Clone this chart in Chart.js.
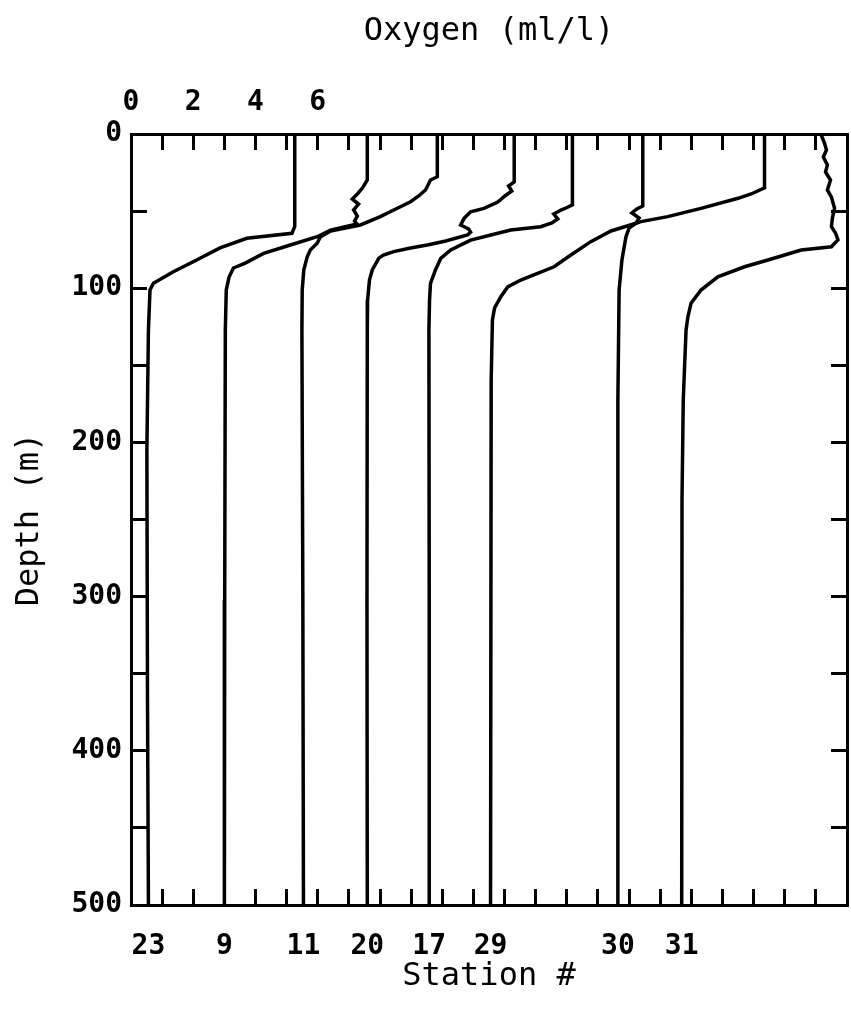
<!DOCTYPE html>
<html>
<head>
<meta charset="utf-8">
<script src="https://cdn.jsdelivr.net/npm/chart.js@4.4.1/dist/chart.umd.min.js"></script>
<style>
  html, body { margin: 0; padding: 0; background: #fff; }
  #wrap { width: 851px; height: 1016px; position: relative; }
</style>
</head>
<body>
<div id="wrap"><canvas id="profiles"></canvas></div>
<script>
// stations in plotting order, and the shift (ml/l) added to each trace
const stations = ['23', '9', '11', '20', '17', '29', '30', '31'];
const offsets = [0, 2.5, 5, 7, 9, 11, 15, 17];
const topLabels = [0, 2, 4, 6];

// oxygen (ml/l) against depth (m), one pair of arrays per cast
const st23_depth = [0, 60, 64.4, 67.6, 73.9, 81.7, 89.3, 96.8, 101.2, 127, 205, 367, 500];
const st23_o2    = [5.26, 5.26, 5.17, 3.72, 2.86, 2.11, 1.36, 0.72, 0.61, 0.56, 0.51, 0.53, 0.56];

const st9_depth = [0, 29.8, 34.9, 38.9, 42.2, 45.4, 49.3, 53.2, 56.5, 58.4, 62.3, 66.6, 72.0, 77.4, 83.7, 86.9, 92.8, 101.2, 127.1, 302.2, 500];
const st9_o2    = [5.09, 5.09, 4.94, 4.77, 4.61, 4.81, 4.65, 4.77, 4.68, 4.76, 3.91, 3.48, 2.62, 1.76, 1.17, 0.79, 0.65, 0.56, 0.53, 0.51, 0.50];

const st11_depth = [0, 27.7, 29.8, 36.3, 40.2, 43.9, 49.3, 53.6, 59.0, 61.0, 62.9, 66.8, 70.9, 75.2, 79.6, 88.2, 101.2, 127.1, 302.2, 500];
const st11_o2    = [4.84, 4.84, 4.62, 4.46, 4.24, 3.98, 3.44, 3.01, 2.37, 1.89, 1.41, 1.08, 0.98, 0.76, 0.66, 0.55, 0.50, 0.49, 0.52, 0.54];

const st20_depth = [0, 31.1, 33.7, 37.0, 40.2, 44.1, 48.2, 50.4, 54.7, 59.0, 61.6, 63.6, 65.5, 69.4, 72.0, 73.9, 76.3, 78.5, 80.5, 88.2, 94.7, 107.7, 127.1, 302.2, 500];
const st20_o2    = [5.31, 5.31, 5.13, 5.23, 5.01, 4.78, 4.34, 3.91, 3.70, 3.59, 3.85, 3.91, 3.81, 3.11, 2.52, 1.98, 1.44, 1.11, 0.96, 0.75, 0.66, 0.60, 0.59, 0.58, 0.59];

const st17_depth = [0, 46.0, 48.0, 49.3, 51.9, 55.1, 57.7, 60.1, 62.3, 65.5, 68.8, 75.2, 80.6, 88.2, 96.8, 107.7, 127.1, 302.2, 500];
const st17_o2    = [5.18, 5.18, 4.97, 4.81, 4.58, 4.71, 4.52, 4.16, 3.20, 2.56, 1.91, 1.27, 0.95, 0.78, 0.62, 0.59, 0.57, 0.58, 0.58];

const st29_depth = [0, 46.7, 48.6, 51.2, 54.5, 57.9, 62.9, 69.8, 78.5, 86.1, 90.8, 94.7, 99.2, 105.5, 112.8, 120.6, 159.5, 500];
const st29_o2    = [5.44, 5.44, 5.25, 5.09, 5.32, 5.22, 4.42, 3.77, 3.13, 2.59, 2.00, 1.52, 1.10, 0.88, 0.68, 0.61, 0.57, 0.55];

const st30_depth = [0, 35.0, 38.9, 41.7, 48.2, 53.6, 56.8, 57.9, 61.0, 66.6, 81.7, 101.0, 172.5, 500];
const st30_o2    = [5.35, 5.35, 4.92, 4.50, 3.31, 2.24, 1.38, 1.22, 1.00, 0.90, 0.77, 0.68, 0.64, 0.64];

const st31_depth = [0, 6.0, 10.4, 14.9, 20.1, 24.6, 29.8, 36.3, 40.9, 48.2, 54.5, 60.1, 64.2, 68.7, 73.1, 75.2, 81.7, 86.1, 92.6, 101.2, 109.8, 118.5, 127.1, 172.5, 237.4, 500];
const st31_o2    = [5.16, 5.28, 5.34, 5.24, 5.37, 5.31, 5.47, 5.37, 5.50, 5.60, 5.53, 5.50, 5.63, 5.71, 5.50, 4.53, 3.46, 2.71, 1.85, 1.31, 0.99, 0.89, 0.83, 0.74, 0.70, 0.69];

const depths = [st23_depth, st9_depth, st11_depth, st20_depth, st17_depth, st29_depth, st30_depth, st31_depth];
const oxygen = [st23_o2, st9_o2, st11_o2, st20_o2, st17_o2, st29_o2, st30_o2, st31_o2];

const black = '#000';
const tickFont = { family: '"DejaVu Sans Mono", monospace', size: 28, weight: 'bold' };
const titleFont = { family: '"DejaVu Sans Mono", monospace', size: 32 };

const datasets = stations.map((name, i) => ({
  label: 'Station ' + name,
  data: depths[i].map((d, j) => ({ x: oxygen[i][j] + offsets[i], y: d })),
  borderColor: black,
  borderWidth: 3.5,
  pointRadius: 0,
  showLine: true,
  fill: false,
  tension: 0,
  xAxisID: 'xTop',
  yAxisID: 'y'
}));

// station numbers sit under the deep end of each trace
const stationTicks = stations.map((name, i) => {
  const o = oxygen[i];
  return { value: o[o.length - 1] + offsets[i], station: name };
});

const inwardGrid = {
  drawOnChartArea: false,
  tickLength: -16,
  tickWidth: 3,
  tickColor: black
};
const frame = { display: true, width: 3, color: black };

// pin each axis box so the plot frame lands where it should
function fixBox(size) {
  return s => {
    if (s.isHorizontal()) s.height = size; else s.width = size;
    s.paddingLeft = s.paddingRight = s.paddingTop = s.paddingBottom = 0;
  };
}

new Chart(document.getElementById('profiles'), {
  type: 'scatter',
  data: { datasets },
  options: {
    responsive: true,
    maintainAspectRatio: false,
    animation: false,
    layout: { padding: 0 },
    plugins: { legend: { display: false }, tooltip: { enabled: false } },
    scales: {
      xTop: {
        type: 'linear', position: 'top', min: 0, max: 23,
        ticks: {
          stepSize: 1, autoSkip: false, maxRotation: 0,
          font: tickFont, color: black, padding: 30,
          callback: v => topLabels.includes(v) ? String(v) : ''
        },
        grid: inwardGrid,
        border: frame,
        title: { display: true, text: 'Oxygen (ml/l)', font: titleFont, color: black, padding: { top: 12, bottom: 0 } },
        afterFit: fixBox(134)
      },
      xBottom: {
        type: 'linear', position: 'bottom', min: 0, max: 23,
        afterBuildTicks: s => {
          const t = [];
          for (let v = 1; v < 23; v++) t.push({ value: v });
          s.ticks = t.concat(stationTicks).sort((a, b) => a.value - b.value);
        },
        ticks: {
          autoSkip: false, maxRotation: 0,
          font: tickFont, color: black, padding: 41,
          callback: (v, i, ticks) => ticks[i].station || ''
        },
        grid: {
          drawOnChartArea: false,
          tickLength: -16,
          tickWidth: 3,
          tickColor: ctx => (ctx.tick && ctx.tick.station) ? 'rgba(0,0,0,0)' : black
        },
        border: frame,
        title: { display: true, text: 'Station #', font: titleFont, color: black, padding: { top: 0, bottom: 20 } },
        afterFit: fixBox(111)
      },
      y: {
        type: 'linear', position: 'left', min: 0, max: 500, reverse: true,
        ticks: {
          stepSize: 50, autoSkip: false,
          font: tickFont, color: black, padding: 25,
          callback: v => v % 100 === 0 ? String(v) : ''
        },
        grid: inwardGrid,
        border: frame,
        title: { display: true, text: 'Depth (m)', font: titleFont, color: black, padding: { top: 10, bottom: 0 } },
        afterFit: fixBox(131)
      },
      yRight: {
        type: 'linear', position: 'right', min: 0, max: 500, reverse: true,
        ticks: { stepSize: 50, display: false },
        grid: inwardGrid,
        border: frame,
        afterFit: fixBox(4)
      }
    }
  }
});
</script>
</body>
</html>
